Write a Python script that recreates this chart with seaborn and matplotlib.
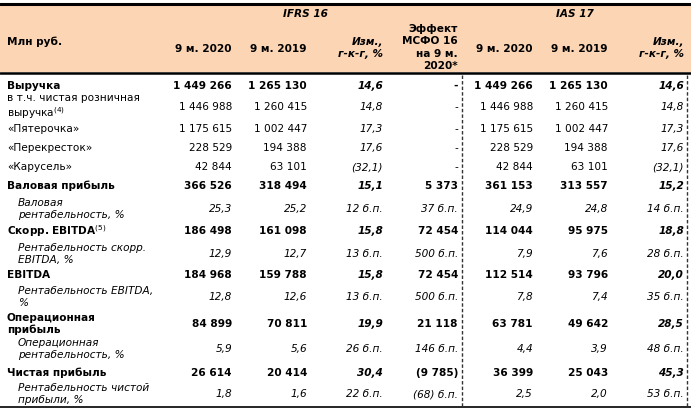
import matplotlib
matplotlib.use("Agg")
import matplotlib.pyplot as plt
import seaborn as sns

# table content
labels = [
    "Выручка",
    "в т.ч. чистая розничная\nвыручка$^{(4)}$",
    "«Пятерочка»",
    "«Перекресток»",
    "«Карусель»",
    "Валовая прибыль",
    "Валовая\nрентабельность, %",
    "Скорр. EBITDA$^{(5)}$",
    "Рентабельность скорр.\nEBITDA, %",
    "EBITDA",
    "Рентабельность EBITDA,\n%",
    "Операционная\nприбыль",
    "Операционная\nрентабельность, %",
    "Чистая прибыль",
    "Рентабельность чистой\nприбыли, %",
]
ifrs_2020 = ["1 449 266", "1 446 988", "1 175 615", "228 529", "42 844", "366 526", "25,3",
             "186 498", "12,9", "184 968", "12,8", "84 899", "5,9", "26 614", "1,8"]
ifrs_2019 = ["1 265 130", "1 260 415", "1 002 447", "194 388", "63 101", "318 494", "25,2",
             "161 098", "12,7", "159 788", "12,6", "70 811", "5,6", "20 414", "1,6"]
ifrs_chg = ["14,6", "14,8", "17,3", "17,6", "(32,1)", "15,1", "12 б.п.",
            "15,8", "13 б.п.", "15,8", "13 б.п.", "19,9", "26 б.п.", "30,4", "22 б.п."]
effect = ["-", "-", "-", "-", "-", "5 373", "37 б.п.",
          "72 454", "500 б.п.", "72 454", "500 б.п.", "21 118", "146 б.п.", "(9 785)", "(68) б.п."]
ias_2020 = ["1 449 266", "1 446 988", "1 175 615", "228 529", "42 844", "361 153", "24,9",
            "114 044", "7,9", "112 514", "7,8", "63 781", "4,4", "36 399", "2,5"]
ias_2019 = ["1 265 130", "1 260 415", "1 002 447", "194 388", "63 101", "313 557", "24,8",
            "95 975", "7,6", "93 796", "7,4", "49 642", "3,9", "25 043", "2,0"]
ias_chg = ["14,6", "14,8", "17,3", "17,6", "(32,1)", "15,2", "14 б.п.",
           "18,8", "28 б.п.", "20,0", "35 б.п.", "28,5", "48 б.п.", "45,3", "53 б.п."]
# row kind: b = bold total, n = plain, m = italic margin row
kinds = ["b", "n", "n", "n", "n", "b", "m", "b", "m", "b", "m", "b", "m", "b", "m"]

# layout (pixel coordinates)
row_y = [86, 107, 129, 148, 167, 186, 209, 231, 254, 275, 297, 324, 349, 373, 394]
col_x = [232, 307, 383, 458, 533, 608, 684]

sns.set_theme(style="white")
plt.rcParams["font.family"] = ["DejaVu Sans"]
plt.rcParams["mathtext.fontset"] = "dejavusans"
plt.rcParams["text.color"] = "black"

W, H = 691, 411
fig = plt.figure(figsize=(W / 100, H / 100), dpi=100)
ax = fig.add_axes([0, 0, 1, 1])
ax.set_xlim(0, W)
ax.set_ylim(H, 0)
ax.axis("off")

fs = 7.6
peach = "#fcd5b4"

# header band and rules
ax.axhspan(5, 72.5, color=peach, lw=0)
ax.axhline(4, color="black", lw=2.2)
ax.axhline(73.5, color="black", lw=1.8)
ax.axhline(407, color="black", lw=1.2)
for x in (462, 687):
    ax.plot([x, x], [75, 407], color="#333333", lw=1.0, ls=(0, (2.5, 1.5)))

# header texts
ax.text(305, 14, "IFRS 16", ha="center", va="center", fontsize=fs, weight="bold", style="italic")
ax.text(575, 14, "IAS 17", ha="center", va="center", fontsize=fs, weight="bold", style="italic")
ax.text(7, 42, "Млн руб.", ha="left", va="center", fontsize=fs, weight="bold")
for x in (232, 533):
    ax.text(x, 49, "9 м. 2020", ha="right", va="center", fontsize=fs, weight="bold")
for x in (307, 608):
    ax.text(x, 49, "9 м. 2019", ha="right", va="center", fontsize=fs, weight="bold")
for x in (383, 684):
    ax.text(x, 48, "Изм.,\nг-к-г, %", ha="right", va="center", fontsize=fs,
            weight="bold", style="italic", multialignment="right", linespacing=1.3)
ax.text(458, 47.5, "Эффект\nМСФО 16\nна 9 м.\n2020*", ha="right", va="center", fontsize=fs,
        weight="bold", multialignment="right", linespacing=1.3)

# body
for i, y in enumerate(row_y):
    k = kinds[i]
    vals = [ifrs_2020[i], ifrs_2019[i], ifrs_chg[i], effect[i], ias_2020[i], ias_2019[i], ias_chg[i]]
    if k == "b":
        ax.text(7, y, labels[i], ha="left", va="center", fontsize=fs, weight="bold", linespacing=1.25)
        for j, (x, v) in enumerate(zip(col_x, vals)):
            it = "italic" if j in (2, 6) else "normal"
            ax.text(x, y, v, ha="right", va="center", fontsize=fs, weight="bold", style=it)
    elif k == "n":
        ax.text(7, y, labels[i], ha="left", va="center", fontsize=fs, linespacing=1.25)
        for j, (x, v) in enumerate(zip(col_x, vals)):
            it = "italic" if j in (2, 6) else "normal"
            ax.text(x, y, v, ha="right", va="center", fontsize=fs, style=it)
    else:
        ax.text(18, y, labels[i], ha="left", va="center", fontsize=fs, style="italic", linespacing=1.25)
        for x, v in zip(col_x, vals):
            ax.text(x, y, v, ha="right", va="center", fontsize=fs, style="italic")

fig.savefig("out.png", dpi=100)
